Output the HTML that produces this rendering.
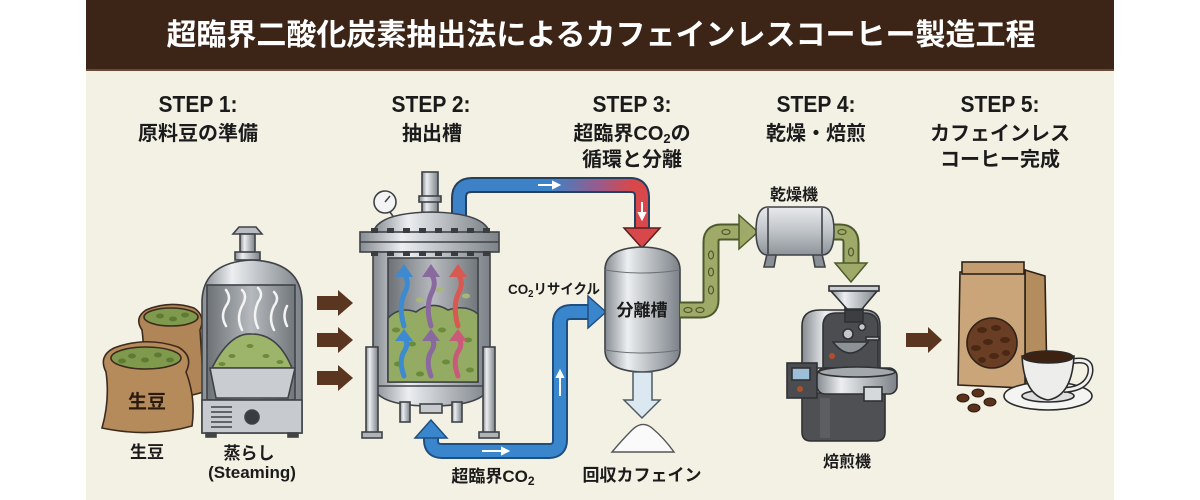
<!DOCTYPE html>
<html><head><meta charset="utf-8">
<style>
html,body{margin:0;padding:0;background:#fff;}
svg{display:block;}
text{font-family:"Liberation Sans","Noto Sans CJK JP",sans-serif;font-weight:bold;}
</style></head><body>
<svg width="1200" height="500" viewBox="0 0 1200 500" xmlns="http://www.w3.org/2000/svg">
<defs>
<linearGradient id="sv" x1="0" x2="1" y1="0" y2="0">
 <stop offset="0" stop-color="#858b91"/>
 <stop offset="0.3" stop-color="#eceef0"/>
 <stop offset="0.55" stop-color="#c3c7cb"/>
 <stop offset="1" stop-color="#7c8288"/>
</linearGradient>
<linearGradient id="svV" x1="0" x2="0" y1="0" y2="1">
 <stop offset="0" stop-color="#e8eaec"/>
 <stop offset="0.5" stop-color="#c0c4c8"/>
 <stop offset="1" stop-color="#8e949a"/>
</linearGradient>
<linearGradient id="win" x1="0" x2="1">
 <stop offset="0" stop-color="#6c7176"/>
 <stop offset="0.5" stop-color="#b6babe"/>
 <stop offset="1" stop-color="#72777c"/>
</linearGradient>
<linearGradient id="pipeTop" gradientUnits="userSpaceOnUse" x1="470" y1="0" x2="650" y2="0">
 <stop offset="0" stop-color="#3d82c6"/>
 <stop offset="0.45" stop-color="#3d82c6"/>
 <stop offset="0.72" stop-color="#9a5a8a"/>
 <stop offset="0.9" stop-color="#d8484a"/>
 <stop offset="1" stop-color="#d8484a"/>
</linearGradient>
</defs>

<!-- background -->
<rect x="0" y="0" width="1200" height="500" fill="#ffffff"/>
<rect x="86" y="0" width="1028" height="500" fill="#f3f0e4"/>
<rect x="86" y="0" width="1028" height="70" fill="#3c2517"/>
<rect x="86" y="69" width="1028" height="2" fill="#6b4a35"/>

<!-- title -->
<text x="601" y="45" font-size="30" fill="#ffffff" text-anchor="middle">超臨界二酸化炭素抽出法によるカフェインレスコーヒー製造工程</text>

<!-- step labels -->
<g fill="#1b1b1b" text-anchor="middle">
 <text x="198" y="112" font-size="23" textLength="79" lengthAdjust="spacingAndGlyphs">STEP 1:</text>
 <text x="198" y="140" font-size="20">原料豆の準備</text>
 <text x="431" y="112" font-size="23" textLength="79" lengthAdjust="spacingAndGlyphs">STEP 2:</text>
 <text x="432" y="140" font-size="20">抽出槽</text>
 <text x="632" y="112" font-size="23" textLength="79" lengthAdjust="spacingAndGlyphs">STEP 3:</text>
 <text x="632" y="140" font-size="20">超臨界CO<tspan font-size="13" dy="3">2</tspan><tspan dy="-3">の</tspan></text>
 <text x="632" y="166" font-size="20">循環と分離</text>
 <text x="816" y="112" font-size="23" textLength="79" lengthAdjust="spacingAndGlyphs">STEP 4:</text>
 <text x="816" y="140" font-size="20">乾燥・焙煎</text>
 <text x="1000" y="112" font-size="23" textLength="79" lengthAdjust="spacingAndGlyphs">STEP 5:</text>
 <text x="1000" y="140" font-size="20">カフェインレス</text>
 <text x="1000" y="166" font-size="20">コーヒー完成</text>
</g>

<!-- sacks -->
<g stroke="#3d2b1d" stroke-width="1.6">
 <path d="M142,330 Q134,318 146,310 Q170,300 194,308 Q206,316 200,330 L204,392 Q170,402 140,396 Q146,360 142,330 Z" fill="#b08558"/>
 <ellipse cx="171" cy="317" rx="27" ry="9" fill="#7f9a4c"/>
 <path d="M106,372 Q98,356 114,348 Q146,336 178,347 Q194,356 186,372 Q196,398 192,426 Q150,438 102,428 Q110,400 106,372 Z" fill="#b68b5c"/>
 <ellipse cx="146" cy="358" rx="35" ry="11" fill="#7f9a4c"/>
</g>
<g fill="#5f7a35">
 <ellipse cx="132" cy="356" rx="4" ry="2.5"/><ellipse cx="145" cy="360" rx="4" ry="2.5"/><ellipse cx="158" cy="355" rx="4" ry="2.5"/><ellipse cx="170" cy="360" rx="4" ry="2.5"/><ellipse cx="122" cy="361" rx="4" ry="2.5"/>
 <ellipse cx="160" cy="316" rx="4" ry="2.5"/><ellipse cx="173" cy="319" rx="4" ry="2.5"/><ellipse cx="185" cy="315" rx="4" ry="2.5"/>
</g>
<text x="147" y="408" font-size="19" fill="#2a1a0e" text-anchor="middle">生豆</text>

<!-- steamer -->
<g stroke="#3f4347" stroke-width="1.6">
 <polygon points="233,234 262,234 256,227 239,227" fill="#b9bdc1"/>
 <rect x="240" y="234" width="15" height="20" fill="url(#sv)"/>
 <rect x="235" y="252" width="25" height="8" fill="url(#sv)"/>
 <path d="M202,300 Q204,262 252,260 Q300,262 302,300 L302,433 L202,433 Z" fill="url(#sv)"/>
 <rect x="207" y="285" width="88" height="115" fill="url(#win)"/>
 <path d="M212,368 Q230,332 252,334 Q278,334 292,368 Z" fill="#9db56a"/>
 <polygon points="210,368 295,368 288,398 216,398" fill="#c9cdd1"/>
 <rect x="202" y="400" width="100" height="33" fill="#c7cbcf"/>
 <circle cx="252" cy="417" r="7" fill="#3a3d40"/>
 <rect x="206" y="433" width="10" height="4" fill="#444"/>
 <rect x="288" y="433" width="10" height="4" fill="#444"/>
</g>
<g stroke="#3f4347" stroke-width="1.4">
 <line x1="211" y1="407" x2="232" y2="407"/><line x1="211" y1="412" x2="232" y2="412"/><line x1="211" y1="417" x2="232" y2="417"/><line x1="211" y1="422" x2="232" y2="422"/><line x1="211" y1="427" x2="232" y2="427"/>
</g>
<g fill="none" stroke="#f4f4f4" stroke-width="2.5" stroke-linecap="round">
 <path d="M226,326 Q220,316 226,306 Q232,298 226,290"/>
 <path d="M242,330 Q236,318 242,306 Q248,296 242,290"/>
 <path d="M258,328 Q252,316 258,302 Q264,294 258,288"/>
 <path d="M274,330 Q268,318 274,306 Q280,298 274,292"/>
 <path d="M287,326 Q282,316 287,306"/>
</g>
<g fill="#6d8a3c"><ellipse cx="232" cy="356" rx="3.5" ry="2"/><ellipse cx="250" cy="346" rx="3.5" ry="2"/><ellipse cx="266" cy="356" rx="3.5" ry="2"/><ellipse cx="280" cy="362" rx="3.5" ry="2"/><ellipse cx="222" cy="364" rx="3.5" ry="2"/></g>

<text x="147" y="458" font-size="17" fill="#1b1b1b" text-anchor="middle">生豆</text>
<text x="249" y="459" font-size="17" fill="#1b1b1b" text-anchor="middle">蒸らし</text>
<text x="252" y="478" font-size="17" fill="#1b1b1b" text-anchor="middle">(Steaming)</text>

<!-- brown arrows -->
<g fill="#5a3520">
 <polygon points="317,296 338,296 338,290 353,303 338,316 338,310 317,310"/>
 <polygon points="317,333 338,333 338,327 353,340 338,353 338,347 317,347"/>
 <polygon points="317,371 338,371 338,365 353,378 338,391 338,385 317,385"/>
</g>

<!-- top pipe (blue->red) -->
<path d="M459,252 L459,198 Q459,185 472,185 L630,185 Q642,185 642,197 L642,232" fill="none" stroke="#253f5e" stroke-width="16"/>
<path d="M459,252 L459,198 Q459,185 472,185 L630,185 Q642,185 642,197 L642,232" fill="none" stroke="url(#pipeTop)" stroke-width="12"/>
<polygon points="624,228 660,228 642,248" fill="#d8484a" stroke="#5a1e20" stroke-width="1.5"/>
<g stroke="#ffffff" stroke-width="2" fill="#fff">
 <line x1="538" y1="185" x2="554" y2="185"/><polygon points="553,182 559,185 553,188"/>
 <line x1="642" y1="202" x2="642" y2="214"/><polygon points="639,213 642,219 645,213"/>
</g>

<!-- extraction tank -->
<g stroke="#3f4347" stroke-width="1.6">
 <rect x="422" y="172" width="16" height="42" fill="url(#sv)"/>
 <rect x="419" y="196" width="22" height="6" fill="url(#sv)"/>
 <line x1="390" y1="212" x2="397" y2="222"/>
 <circle cx="385" cy="202" r="11" fill="#f4f4f4"/>
 <line x1="385" y1="202" x2="390" y2="196" stroke-width="1.5"/>
 <path d="M373,234 Q376,213 431,212 Q486,213 490,234 Z" fill="url(#sv)"/>
 <rect x="360" y="232" width="139" height="20" fill="url(#sv)"/>
 <line x1="360" y1="242" x2="499" y2="242"/>
 <rect x="373" y="252" width="117" height="136" fill="url(#sv)"/>
 <path d="M373,386 Q378,406 431,406 Q484,406 490,386 Z" fill="url(#sv)"/>
 <rect x="388" y="258" width="90" height="124" fill="url(#win)"/>
 <path d="M388,318 Q400,306 416,312 Q432,300 448,310 Q466,304 478,314 L478,382 L388,382 Z" fill="#93ab63"/>
 <rect x="366" y="347" width="12" height="88" fill="url(#sv)"/>
 <rect x="483" y="347" width="12" height="88" fill="url(#sv)"/>
 <rect x="362" y="432" width="20" height="6" fill="#b0b4b8"/>
 <rect x="479" y="432" width="20" height="6" fill="#b0b4b8"/>
 <rect x="400" y="402" width="10" height="20" fill="url(#sv)"/>
 <rect x="452" y="402" width="10" height="20" fill="url(#sv)"/>
 <rect x="420" y="404" width="22" height="9" fill="#c6cacd"/>
</g>
<g fill="#3a3d40">
 <rect x="371" y="228" width="7" height="5"/><rect x="387" y="228" width="7" height="5"/><rect x="403" y="228" width="7" height="5"/><rect x="419" y="228" width="7" height="5"/><rect x="435" y="228" width="7" height="5"/><rect x="451" y="228" width="7" height="5"/><rect x="467" y="228" width="7" height="5"/><rect x="483" y="228" width="7" height="5"/>
 <rect x="371" y="251" width="7" height="5"/><rect x="387" y="251" width="7" height="5"/><rect x="403" y="251" width="7" height="5"/><rect x="419" y="251" width="7" height="5"/><rect x="435" y="251" width="7" height="5"/><rect x="451" y="251" width="7" height="5"/><rect x="467" y="251" width="7" height="5"/><rect x="483" y="251" width="7" height="5"/>
</g>
<g fill="#6b8a3a">
 <ellipse cx="396" cy="330" rx="4" ry="2.5"/><ellipse cx="412" cy="344" rx="4" ry="2.5"/><ellipse cx="442" cy="330" rx="4" ry="2.5"/><ellipse cx="468" cy="340" rx="4" ry="2.5"/><ellipse cx="398" cy="364" rx="4" ry="2.5"/><ellipse cx="446" cy="362" rx="4" ry="2.5"/><ellipse cx="470" cy="370" rx="4" ry="2.5"/><ellipse cx="420" cy="374" rx="4" ry="2.5"/>
 <ellipse cx="440" cy="290" rx="4" ry="2.5" fill="#a8b878"/><ellipse cx="420" cy="300" rx="4" ry="2.5" fill="#a8b878"/><ellipse cx="466" cy="296" rx="4" ry="2.5" fill="#a8b878"/>
</g>
<g fill="none" stroke-width="5" stroke-linecap="round">
 <path d="M404,326 Q398,306 405,292 Q410,282 404,274" stroke="#3d8ad0"/>
 <path d="M431,326 Q425,306 432,292 Q437,282 431,274" stroke="#8a6a9e"/>
 <path d="M458,326 Q452,306 459,292 Q464,282 458,274" stroke="#d65a52"/>
 <path d="M404,376 Q398,360 405,350 Q409,343 404,338" stroke="#3d8ad0"/>
 <path d="M431,376 Q425,360 432,350 Q436,343 431,338" stroke="#8a6a9e"/>
 <path d="M458,376 Q452,360 459,350 Q463,343 458,338" stroke="#c95a7a"/>
</g>
<polygon points="395,277 413,277 404,264" fill="#3d8ad0"/>
<polygon points="422,277 440,277 431,264" fill="#8a6a9e"/>
<polygon points="449,277 467,277 458,264" fill="#d65a52"/>
<polygon points="395,341 413,341 404,329" fill="#3d8ad0"/>
<polygon points="422,341 440,341 431,329" fill="#8a6a9e"/>
<polygon points="449,341 467,341 458,329" fill="#c95a7a"/>

<!-- bottom blue pipe -->
<path d="M431,436 L431,440 Q431,451 442,451 L549,451 Q560,451 560,440 L560,323 Q560,312 571,312 L592,312" fill="none" stroke="#1f4f80" stroke-width="16"/>
<path d="M431,436 L431,440 Q431,451 442,451 L549,451 Q560,451 560,440 L560,323 Q560,312 571,312 L592,312" fill="none" stroke="#3a86cc" stroke-width="12"/>
<polygon points="415,438 447,438 431,420" fill="#3a86cc" stroke="#1f4f80" stroke-width="1.5"/>
<polygon points="588,296 588,328 606,312" fill="#3a86cc" stroke="#1f4f80" stroke-width="1.5"/>
<g stroke="#ffffff" stroke-width="2" fill="#fff">
 <line x1="482" y1="451" x2="503" y2="451"/><polygon points="502,448 508,451 502,454"/>
 <line x1="560" y1="396" x2="560" y2="376"/><polygon points="557,377 560,371 563,377"/>
</g>
<text x="493" y="482" font-size="17" fill="#1b1b1b" text-anchor="middle">超臨界CO<tspan font-size="12" dy="3">2</tspan></text>
<text x="508" y="294" font-size="14" fill="#1b1b1b" textLength="92" lengthAdjust="spacingAndGlyphs">CO<tspan font-size="10" dy="3">2</tspan><tspan dy="-3">リサイクル</tspan></text>

<!-- separator -->
<path d="M605,270 Q605,248 642,247 Q680,248 680,270 L680,350 Q680,371 642,372 Q605,371 605,350 Z" fill="url(#sv)" stroke="#3f4347" stroke-width="1.6"/>
<path d="M605,270 Q642,276 680,270" fill="none" stroke="#6a7075" stroke-width="1"/>
<path d="M605,350 Q642,356 680,350" fill="none" stroke="#6a7075" stroke-width="1"/>
<text x="642" y="316" font-size="17" fill="#1b1b1b" text-anchor="middle">分離槽</text>

<!-- caffeine -->
<polygon points="633,372 652,372 652,400 660,400 642,418 624,400 633,400" fill="#dbe8f1" stroke="#4f5a63" stroke-width="1.5"/>
<path d="M612,452 Q622,440 632,430 Q642,420 652,428 Q664,438 674,452 Z" fill="#fafafa" stroke="#555" stroke-width="1.4"/>
<text x="642" y="481" font-size="17" fill="#1b1b1b" text-anchor="middle">回収カフェイン</text>

<!-- green bean pipes -->
<path d="M680,310 L701,310 Q711,310 711,300 L711,242 Q711,232 721,232 L742,232" fill="none" stroke="#4d5a2e" stroke-width="17"/>
<path d="M680,310 L701,310 Q711,310 711,300 L711,242 Q711,232 721,232 L742,232" fill="none" stroke="#9faa68" stroke-width="13"/>
<polygon points="739,215 739,249 758,232" fill="#9faa68" stroke="#4d5a2e" stroke-width="1.5"/>
<path d="M832,232 L840,232 Q851,232 851,243 L851,265" fill="none" stroke="#4d5a2e" stroke-width="17"/>
<path d="M832,232 L840,232 Q851,232 851,243 L851,265" fill="none" stroke="#9faa68" stroke-width="13"/>
<polygon points="835,263 867,263 851,282" fill="#9faa68" stroke="#4d5a2e" stroke-width="1.5"/>
<g fill="none" stroke="#4d5a2e" stroke-width="1.2">
 <ellipse cx="688" cy="310" rx="4" ry="2.5"/><ellipse cx="700" cy="310" rx="4" ry="2.5"/><ellipse cx="711" cy="290" rx="2.5" ry="4"/><ellipse cx="711" cy="272" rx="2.5" ry="4"/><ellipse cx="711" cy="255" rx="2.5" ry="4"/><ellipse cx="726" cy="232" rx="4" ry="2.5"/><ellipse cx="842" cy="232" rx="4" ry="2.5"/><ellipse cx="851" cy="252" rx="2.5" ry="4"/>
</g>

<!-- dryer -->
<text x="794" y="200" font-size="16" fill="#1b1b1b" text-anchor="middle">乾燥機</text>
<g stroke="#3f4347" stroke-width="1.6">
 <polygon points="768,250 777,250 774,267 764,267" fill="#8a9096"/>
 <polygon points="812,250 821,250 825,267 815,267" fill="#8a9096"/>
 <path d="M768,207 L822,207 Q834,207 834,231 Q834,255 822,255 L768,255 Q756,255 756,231 Q756,207 768,207 Z" fill="url(#svV)"/>
 <line x1="768" y1="208" x2="768" y2="254"/>
 <line x1="822" y1="208" x2="822" y2="254"/>
</g>

<!-- roaster -->
<g stroke="#2f3134" stroke-width="1.6">
 <rect x="845" y="306" width="18" height="14" fill="#3c3e41"/>
 <polygon points="830,290 878,290 862,309 847,309" fill="url(#sv)"/>
 <rect x="829" y="286" width="50" height="5" fill="#c9cdd1"/>
 <path d="M802,368 L802,326 Q802,310 820,310 L864,310 Q880,310 880,326 L880,368 Z" fill="url(#sv)"/>
 <path d="M823,368 L823,326 Q823,313 836,313 L864,313 Q878,313 878,326 L878,368 Z" fill="#4b4d50"/>
 <rect x="845" y="310" width="18" height="12" fill="#3c3e41"/>
 <circle cx="848" cy="334" r="5" fill="#c4c8cc"/>
 <circle cx="862" cy="327" r="3.5" fill="#c4c8cc"/>
 <path d="M833,342 Q850,364 868,342 Z" fill="#8d9297"/>
 <rect x="866" y="337" width="13" height="3" fill="#c4c8cc"/>
 <path d="M802,393 L885,393 L885,432 Q885,441 876,441 L811,441 Q802,441 802,432 Z" fill="#4e5053"/>
 <rect x="787" y="363" width="30" height="35" fill="#4a4c4f"/>
 <rect x="792" y="368" width="18" height="12" fill="#9cc0d8"/>
 <rect x="817" y="368" width="80" height="26" rx="8" fill="url(#sv)"/>
 <ellipse cx="857" cy="372" rx="38" ry="5" fill="#a3a8ad"/>
 <rect x="864" y="387" width="18" height="14" fill="#d6d9dc"/>
</g>
<circle cx="832" cy="356" r="3" fill="#b0502a"/>
<circle cx="800" cy="389" r="3" fill="#b0502a"/>
<rect x="820" y="398" width="10" height="40" fill="#5c5e62"/>
<text x="847" y="467" font-size="16" fill="#1b1b1b" text-anchor="middle">焙煎機</text>

<!-- arrow to final -->
<polygon points="906,333 928,333 928,327 942,340 928,353 928,347 906,347" fill="#5a3520"/>

<!-- coffee bag -->
<g stroke="#2e2218" stroke-width="1.6">
 <polygon points="1025,270 1045,276 1047,382 1025,388" fill="#b48d5e"/>
 <polygon points="960,272 1025,270 1025,388 958,385" fill="#caa57a"/>
 <rect x="962" y="262" width="62" height="12" fill="#c39d70"/>
 <circle cx="992" cy="343" r="25" fill="#6a3e24"/>
</g>
<g fill="#4a2814">
 <ellipse cx="982" cy="330" rx="5" ry="3"/><ellipse cx="996" cy="328" rx="5" ry="3"/><ellipse cx="1005" cy="340" rx="5" ry="3"/><ellipse cx="988" cy="342" rx="5" ry="3"/><ellipse cx="976" cy="348" rx="5" ry="3"/><ellipse cx="994" cy="356" rx="5" ry="3"/><ellipse cx="1006" cy="353" rx="4" ry="3"/><ellipse cx="982" cy="360" rx="4" ry="3"/>
</g>
<g fill="#5a321c" stroke="#2e1a0c" stroke-width="1">
 <ellipse cx="963" cy="398" rx="6" ry="4"/><ellipse cx="978" cy="393" rx="6" ry="4"/><ellipse cx="990" cy="402" rx="6" ry="4"/><ellipse cx="974" cy="408" rx="6" ry="4"/>
</g>

<!-- cup -->
<g stroke="#2a2a2a" stroke-width="1.6">
 <ellipse cx="1048" cy="396" rx="44" ry="14" fill="#f4f4f2"/>
 <ellipse cx="1048" cy="396" rx="26" ry="6" fill="#dedede"/>
 <path d="M1068,362 Q1094,356 1090,374 Q1086,389 1064,390" fill="none" stroke-width="6"/>
 <path d="M1068,362 Q1094,356 1090,374 Q1086,389 1064,390" fill="none" stroke="#f0f0ee" stroke-width="3"/>
 <path d="M1022,356 L1074,356 Q1072,396 1048,400 Q1024,396 1022,356 Z" fill="#ededeb"/>
 <ellipse cx="1048" cy="357" rx="25" ry="6" fill="#3d2212"/>
</g>
</svg>
</body></html>
